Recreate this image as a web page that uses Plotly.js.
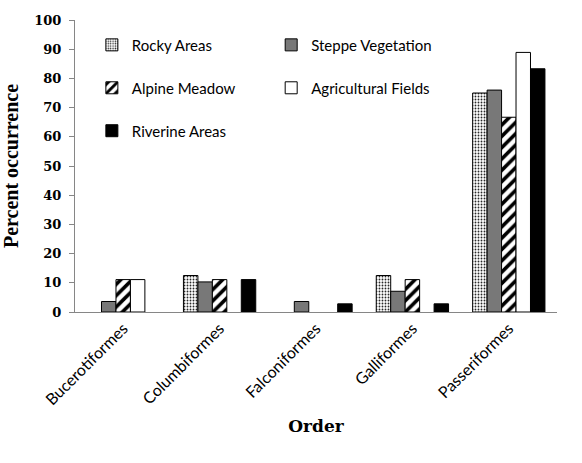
<!DOCTYPE html>
<html>
<head>
<meta charset="utf-8">
<script src="https://cdn.plot.ly/plotly-3.0.1.min.js"></script>
<style>
  body { margin: 0; padding: 0; background: white; }
  #chart { width: 582px; height: 463px; }
</style>
</head>
<body>
<div id="chart"></div>
<script>
var orders = ['Bucerotiformes', 'Columbiformes', 'Falconiformes', 'Galliformes', 'Passeriformes'];

var rocky = [0, 12.5, 0, 12.5, 75];
var steppe = [3.6, 10.3, 3.6, 7.1, 76];
var alpine = [11.1, 11.1, 0, 11.1, 66.7];
var agri = [11.1, 0, 0, 0, 88.9];
var riverine = [0, 11.1, 2.8, 2.8, 83.3];

function bar(name, vals, marker, legendId) {
    marker.line = {color: 'black', width: 1};
    return {
        x: orders,
        // zero values are left empty so no outline is drawn on the baseline
        y: vals.map(function(v) { return v > 0 ? v : null; }),
        name: name,
        type: 'bar',
        hoverinfo: 'none',
        marker: marker,
        legend: legendId
    };
}

var data = [
    bar('Rocky Areas', rocky, {
        color: 'white',
        pattern: {shape: '.', fgcolor: 'rgb(40,40,40)', bgcolor: 'white', size: 3, solidity: 0.3}
    }, 'legend'),
    bar('Steppe Vegetation', steppe, {
        color: 'rgb(130,130,130)',
        pattern: {shape: '.', fgcolor: 'rgb(70,70,70)', bgcolor: 'rgb(160,160,160)', size: 2, solidity: 0.5}
    }, 'legend2'),
    bar('Alpine Meadow', alpine, {
        color: 'white',
        pattern: {shape: '/', fgcolor: 'black', bgcolor: 'white', size: 8, solidity: 0.45}
    }, 'legend3'),
    bar('Agricultural Fields', agri, {
        color: 'white'
    }, 'legend4'),
    bar('Riverine Areas', riverine, {
        color: 'black'
    }, 'legend5')
];

var legendFont = {family: 'Lato, sans-serif', size: 15, color: 'black'};
function leg(x, y) {
    return {
        x: x, y: y,
        xanchor: 'left', yanchor: 'middle',
        bgcolor: 'rgba(0,0,0,0)',
        font: legendFont,
        itemclick: false
    };
}

var layout = {
    width: 582,
    height: 463,
    margin: {t: 20, b: 151, l: 75, r: 25},
    paper_bgcolor: 'white',
    plot_bgcolor: 'white',
    barmode: 'group',
    bargap: 0.25,
    bargroupgap: 0,
    showlegend: true,
    legend: leg(0.035, 0.914),
    legend2: leg(0.407, 0.914),
    legend3: leg(0.035, 0.767),
    legend4: leg(0.407, 0.767),
    legend5: leg(0.035, 0.620),
    xaxis: {
        showgrid: false,
        showline: true,
        linecolor: 'rgb(134,134,134)',
        linewidth: 1,
        ticks: '',
        tickangle: -45,
        tickfont: {family: 'Lato, sans-serif', size: 16, color: 'black'},
        title: {
            text: 'Order',
            font: {family: 'DejaVu Serif', size: 17, color: 'black', weight: 'bold'},
            standoff: 12
        },
        fixedrange: true
    },
    yaxis: {
        range: [0, 100],
        dtick: 10,
        showgrid: false,
        zeroline: false,
        showline: true,
        linecolor: 'rgb(134,134,134)',
        linewidth: 1,
        ticks: 'outside',
        ticklen: 5,
        tickcolor: 'rgb(134,134,134)',
        ticklabelstandoff: 5,
        tickfont: {family: 'DejaVu Serif', size: 13, color: 'black', weight: 'bold'},
        title: {
            text: 'Percent occurrence',
            font: {family: 'Liberation Serif', size: 20, color: 'black', weight: 'bold'},
            standoff: 12
        },
        fixedrange: true
    }
};

Plotly.newPlot('chart', data, layout, {displayModeBar: false, staticPlot: true});
</script>
</body>
</html>
